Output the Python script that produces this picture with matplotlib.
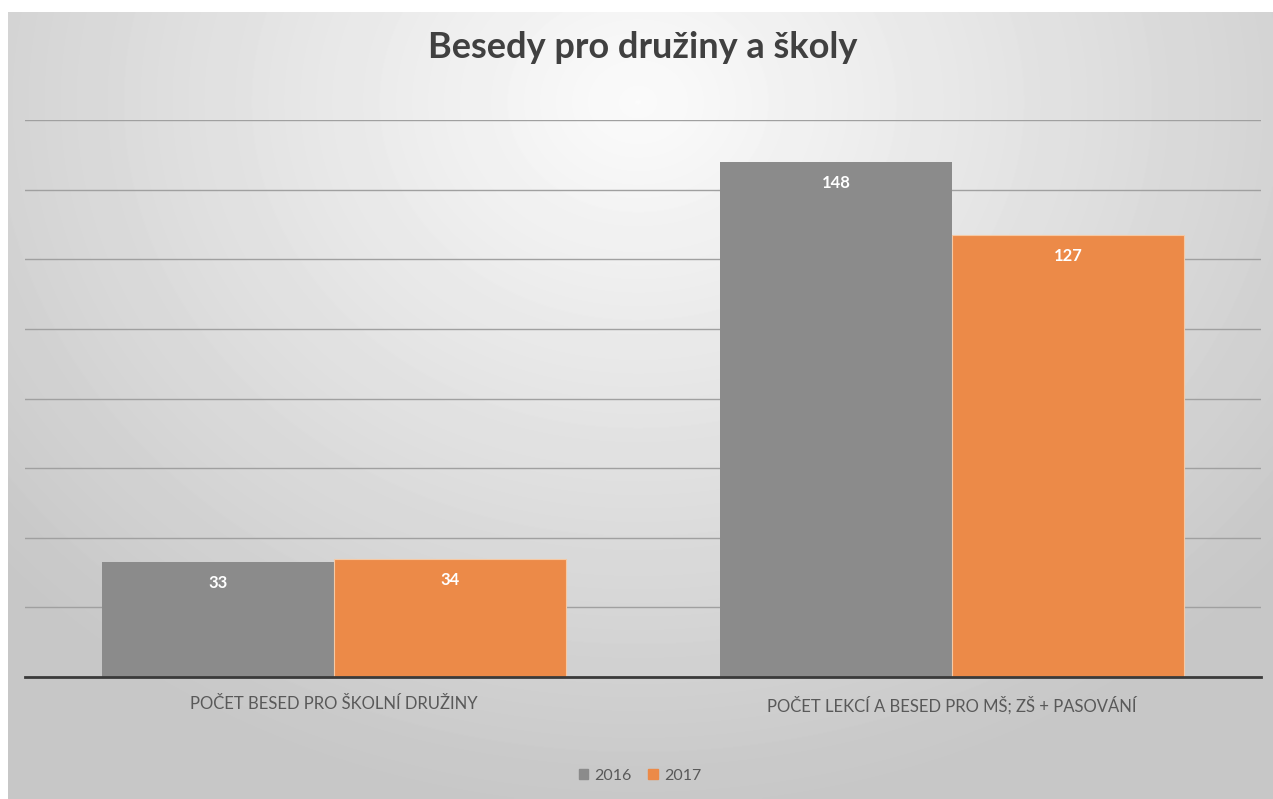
import numpy as np
import matplotlib.pyplot as plt
from matplotlib.patches import Patch

categories = ["POČET BESED PRO ŠKOLNÍ DRUŽINY", "POČET LEKCÍ A BESED PRO MŠ; ZŠ + PASOVÁNÍ"]
series_names = ["2016", "2017"]
values_2016 = [33, 148]
values_2017 = [34, 127]

GRAY = "#8b8b8b"
ORANGE = "#ec8a48"

plt.rcParams['font.family'] = ['Lato', 'DejaVu Sans']

W, H = 1273, 799
fig = plt.figure(figsize=(W / 100, H / 100), dpi=100)
fig.patch.set_facecolor("white")

# radial gradient background (white top centre, grey edges)
bg = fig.add_axes([8 / W, 0, 1 - 8 / W, 1 - 12 / H])
yy, xx = np.mgrid[0:787, 0:1265]
d = np.sqrt(((xx - 630) / 900.0) ** 2 + ((yy - 90) / 760.0) ** 2)
shade = np.clip(0.985 - 0.22 * d, 0.78, 1.0)
bg.imshow(shade, cmap="gray", vmin=0, vmax=1, aspect="auto", interpolation="bilinear")
bg.axis("off")

ax = fig.add_axes([25 / W, 122 / H, (1261 - 25) / W, (677 - 120) / H])
ax.patch.set_alpha(0)

x = np.arange(len(categories))
w = 0.375
b1 = ax.bar(x - w / 2, values_2016, w, color=GRAY, label=series_names[0], zorder=3)
b2 = ax.bar(x + w / 2, values_2017, w, color=ORANGE, label=series_names[1], zorder=3,
            edgecolor="#f6c9a4", linewidth=0.8)

for bars in (b1, b2):
    for r in bars:
        ax.text(r.get_x() + r.get_width() / 2, r.get_height() - 6, f"{int(r.get_height())}",
                ha="center", va="center", color="white", fontsize=12, fontweight="bold", zorder=4)

ax.set_xlim(-0.5, 1.5)
ax.set_ylim(0, 160)
ax.set_yticks(np.arange(0, 161, 20))
ax.yaxis.grid(True, color="#a0a0a0", linewidth=1.0, zorder=0)
ax.tick_params(axis="y", left=False, labelleft=False)
ax.tick_params(axis="x", bottom=False, pad=10)
ax.set_xticks(x)
ax.set_xticklabels(categories, fontsize=12, color="#595959")
for s in ("top", "right", "left"):
    ax.spines[s].set_visible(False)
ax.spines["bottom"].set_color("#3a3a3a")
ax.spines["bottom"].set_linewidth(2)
ax.spines["bottom"].set_zorder(5)

fig.text(643 / W, 1 - 47 / H, "Besedy pro družiny a školy", ha="center", va="center",
         fontsize=26, fontweight="bold", color="#404040")

handles = [Patch(color=GRAY, label=series_names[0]), Patch(color=ORANGE, label=series_names[1])]
fig.legend(handles=handles, loc="center", bbox_to_anchor=(640 / W, 1 - 776 / H), ncol=2,
           frameon=False, fontsize=11.5, labelcolor="#595959", handlelength=0.6, handleheight=0.6,
           handletextpad=0.4, columnspacing=1.0)

fig.savefig("out.png", dpi=100)
